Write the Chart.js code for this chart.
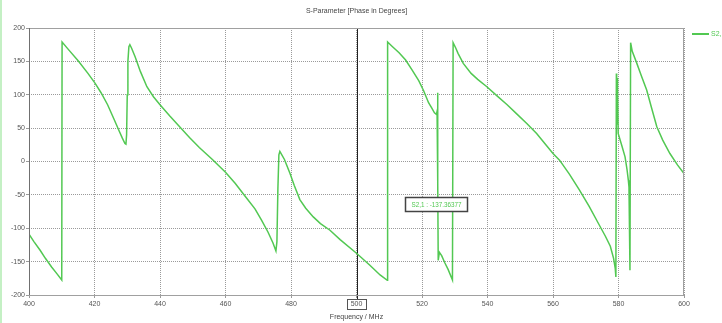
<!DOCTYPE html>
<html>
<head>
<meta charset="utf-8">
<script src="https://cdn.jsdelivr.net/npm/chart.js@4/dist/chart.umd.min.js"></script>
<style>
html,body{margin:0;padding:0;background:#fff;}
#wrap{position:relative;width:722px;height:323px;}
</style>
</head>
<body>
<div id="wrap"><canvas id="c" width="722" height="323"></canvas></div>
<script>
const chartTitle = "S-Parameter [Phase in Degrees]";
const seriesName = "S2,1";
const xAxisTitle = "Frequency / MHz";
const xTicks = [400, 420, 440, 460, 480, 500, 520, 540, 560, 580, 600];
const yTicks = [-200, -150, -100, -50, 0, 50, 100, 150, 200];
const markerFreq = 500;
const markerLabel = "S2,1 : -137.36377";

const freq = [
  400, 401.5, 403.4, 405, 406.9, 408.5, 410,
  410.1, 412, 415, 418, 420.2, 422, 424, 426, 427.5, 428.5, 429.3, 429.6,
  429.8, 430.0, 430.2, 430.5, 430.8, 431.3, 432.4, 434, 436, 438, 440, 443, 446, 449, 452,
  456, 460, 463, 466, 469, 471, 473, 474.5, 475.4,
  475.7, 476.0, 476.3, 476.6, 477.2, 478, 479.7, 481, 482.7, 484.5, 486.8, 489, 491.9, 495,
  500, 504, 507.2, 509.4,
  509.5, 511, 513, 515, 517, 519, 520.5, 522, 523, 523.8, 524.4, 524.6, 524.75,
  524.85, 524.95, 525.3, 526, 527, 528, 529.3,
  529.5, 530.3, 531, 532.6, 535, 537, 539.8, 543, 546, 549, 552, 555, 558, 560, 562,
  565, 568, 571, 574, 576, 577.5, 578.5, 579, 579.2,
  579.35, 579.45, 579.55, 579.65, 579.75, 579.9, 581, 582, 582.6, 583, 583.2, 583.5,
  583.7, 584.2, 585.6, 587, 588.6, 590, 591.7, 593.5, 595.7, 598, 600];
const phase = [
  -109, -120, -133, -145, -158, -168, -177.5,
  179, 168, 151, 132, 117, 103, 85, 63, 46, 35, 27, 26,
  40, 100, 150, 172, 175, 170, 157, 135, 112, 97, 85, 68, 52, 36, 21,
  3, -16, -33, -52, -71, -88, -106, -122, -134,
  -120, -40, 10, 15, 10, 3, -18, -36, -57, -70, -83, -93, -103, -117,
  -137.4, -155, -170, -178,
  179, 172, 163, 152, 137, 121, 106, 88, 80, 73, 70.5, 75, 103,
  -30, -148, -136, -141, -152, -162, -177.5,
  178, 170, 162, 147, 132, 123, 112, 98, 85, 71, 57, 42, 24, 12, 2,
  -19, -42, -67, -94, -112, -127, -145, -160, -173,
  132, 60, 125, 55, 110, 42, 24, 7, -12, -28, -38, -163,
  178, 165, 147, 128, 107, 82, 52, 32, 12, -5, -18];

const points = freq.map((f, i) => ({x: f, y: phase[i]}));
const FONT = "Liberation Sans, Arial, sans-serif";
const GREEN = "#52c852";

const deco = {
  id: 'deco',
  beforeDatasetsDraw(chart) {
    const {ctx, chartArea: a, scales: {x}} = chart;
    const mx = Math.round(x.getPixelForValue(markerFreq)) + 0.5;
    ctx.save();
    ctx.strokeStyle = '#222';
    ctx.lineWidth = 1;
    ctx.beginPath(); ctx.moveTo(mx, a.top); ctx.lineTo(mx, a.bottom + 4); ctx.stroke();
    ctx.restore();
  },
  afterDraw(chart) {
    const {ctx, chartArea: a, scales: {x}} = chart;
    ctx.save();
    ctx.fillStyle = '#c4f0c4';
    ctx.fillRect(0, 0, 2, 323);
    ctx.strokeStyle = '#a0a0a0';
    ctx.lineWidth = 1;
    ctx.strokeRect(a.left + 0.5, a.top + 0.5, a.right - a.left - 1, a.bottom - a.top);
    ctx.strokeStyle = '#707070';
    ctx.beginPath(); ctx.moveTo(a.left + 0.5, a.top); ctx.lineTo(a.left + 0.5, a.bottom); ctx.stroke();
    ctx.fillStyle = '#444';
    ctx.font = "7px " + FONT;
    ctx.textAlign = 'center';
    ctx.textBaseline = 'middle';
    ctx.fillText(chartTitle, (a.left + a.right) / 2, 11);
    ctx.strokeStyle = GREEN;
    ctx.lineWidth = 2;
    ctx.beginPath(); ctx.moveTo(692, 34); ctx.lineTo(709, 34); ctx.stroke();
    ctx.fillStyle = GREEN;
    ctx.textAlign = 'left';
    ctx.fillText(seriesName, 711, 34);
    const mx = x.getPixelForValue(markerFreq);
    ctx.strokeStyle = '#555';
    ctx.lineWidth = 1;
    ctx.strokeRect(Math.round(mx) - 9.5, 299.5, 19, 10);
    const bx = 405.5, by = 197.5, bw = 62, bh = 14;
    ctx.fillStyle = '#fff';
    ctx.fillRect(bx, by, bw, bh);
    ctx.strokeStyle = '#444';
    ctx.lineWidth = 1.5;
    ctx.strokeRect(bx, by, bw, bh);
    ctx.fillStyle = GREEN;
    ctx.textAlign = 'center';
    ctx.font = "6.3px " + FONT;
    ctx.fillText(markerLabel, bx + bw / 2, by + bh / 2 + 0.5);
    ctx.restore();
  }
};

new Chart(document.getElementById('c'), {
  type: 'line',
  data: {
    datasets: [{
      label: seriesName,
      data: points,
      borderColor: GREEN,
      borderWidth: 1.5,
      pointRadius: 0,
      tension: 0,
      fill: false
    }]
  },
  options: {
    responsive: false,
    animation: false,
    events: [],
    layout: {padding: {top: 28, right: 38, left: 0, bottom: 0}},
    plugins: {legend: {display: false}, tooltip: {enabled: false}, title: {display: false}},
    scales: {
      x: {
        type: 'linear', min: 400, max: 600,
        afterBuildTicks: s => { s.ticks = xTicks.map(v => ({value: v})); },
        afterFit: s => { s.height = 28; },
        ticks: {color: '#555', font: {size: 7, family: FONT}, padding: 2, maxRotation: 0, autoSkip: false},
        grid: {color: '#9a9a9a', lineWidth: 1, tickLength: 3},
        border: {display: false, dash: [1, 1]},
        title: {display: true, text: xAxisTitle, color: '#444', font: {size: 7, family: FONT}, padding: {top: 0, bottom: 2}}
      },
      y: {
        min: -200, max: 200,
        afterBuildTicks: s => { s.ticks = yTicks.map(v => ({value: v})); },
        afterFit: s => { s.width = 29; },
        ticks: {color: '#555', font: {size: 7, family: FONT}, padding: 1},
        grid: {color: '#9a9a9a', lineWidth: 1, tickLength: 3},
        border: {display: false, dash: [1, 1]}
      }
    }
  },
  plugins: [deco]
});
</script>
</body>
</html>
